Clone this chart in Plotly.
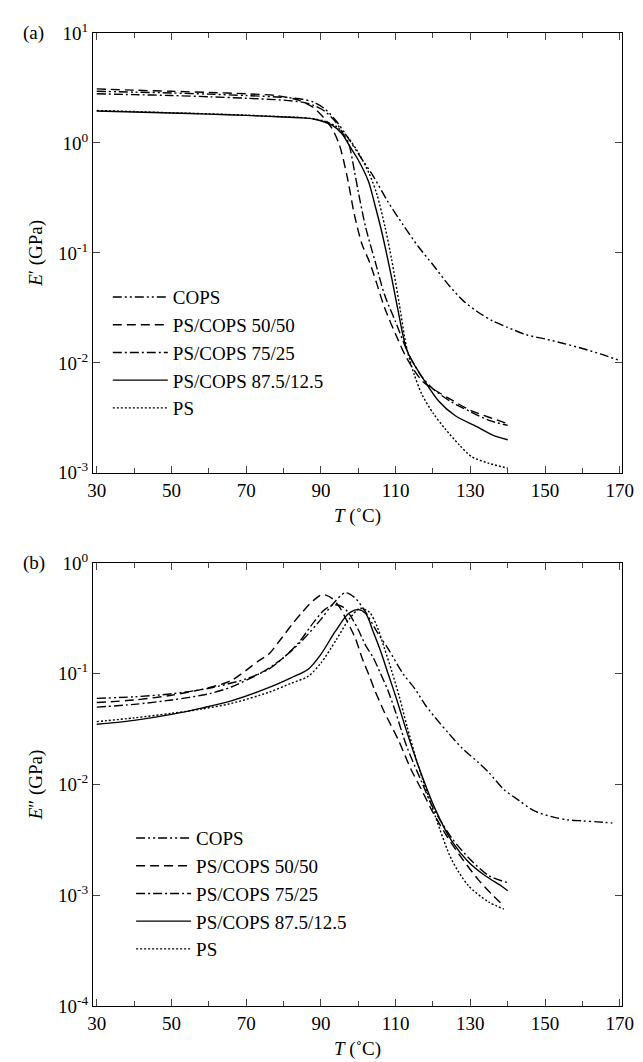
import plotly.graph_objects as go

# 1. DATOS
leyenda = ["COPS", "PS/COPS 50/50", "PS/COPS 75/25", "PS/COPS 87.5/12.5", "PS"]

# (a) E' (GPa) vs T (°C)
t_cops_a = [30, 40, 50, 60, 70, 80, 85, 88, 91, 94, 97, 100, 104, 108, 112, 116, 120, 124, 128,
            132, 136, 140, 145, 150, 155, 160, 165, 170]
e_cops_a = [2.95, 2.9, 2.85, 2.78, 2.7, 2.6, 2.5, 2.35, 2.05, 1.6, 1.15, 0.8, 0.5, 0.29, 0.18, 0.115,
            0.078, 0.052, 0.037, 0.029, 0.024, 0.021, 0.018, 0.0165, 0.015, 0.0135, 0.012, 0.0105]

t_5050_a = [30, 40, 50, 60, 70, 78, 84, 88, 91, 93, 95, 97, 99, 101, 103, 105, 107, 110.8, 113,
            117, 120, 125, 130, 135, 140]
e_5050_a = [3.1, 3.02, 2.95, 2.88, 2.8, 2.7, 2.45, 2.1, 1.66, 1.35, 0.95, 0.5, 0.22, 0.12, 0.083,
            0.052, 0.032, 0.0158, 0.011, 0.0069, 0.0058, 0.0046, 0.0037, 0.0032, 0.0028]

t_7525_a = [30, 40, 50, 60, 70, 80, 85, 88, 91, 94, 96, 97.4, 99, 100, 102, 104.5, 107, 109.9,
            113.5, 117, 120, 125, 130, 135, 140]
e_7525_a = [2.8, 2.75, 2.7, 2.63, 2.55, 2.45, 2.35, 2.2, 1.95, 1.55, 1.2, 1.0, 0.55, 0.36, 0.17,
            0.084, 0.042, 0.024, 0.012, 0.0075, 0.0058, 0.0044, 0.0036, 0.003, 0.0027]

t_875_a = [30, 40, 50, 60, 70, 80, 85, 88, 91, 93, 95.6, 98, 100, 102.7, 104.5, 106.3, 109, 111,
           112.6, 114, 117, 121.5, 126, 132, 136, 140]
e_875_a = [1.95, 1.91, 1.87, 1.83, 1.78, 1.72, 1.69, 1.65, 1.55, 1.45, 1.22, 0.9, 0.7, 0.45, 0.27,
           0.155, 0.058, 0.026, 0.0145, 0.011, 0.0075, 0.0045, 0.0033, 0.0026, 0.0022, 0.002]

t_ps_a = [30, 40, 50, 60, 70, 80, 85, 88, 91, 94, 97, 100, 103, 105, 107.2, 109, 111, 113, 115,
          117, 120, 123.3, 127, 130.4, 135, 140]
e_ps_a = [1.97, 1.93, 1.88, 1.84, 1.79, 1.73, 1.7, 1.66, 1.58, 1.42, 1.15, 0.82, 0.52, 0.34, 0.17,
          0.085, 0.034, 0.0135, 0.0078, 0.0052, 0.0035, 0.0025, 0.0018, 0.0014, 0.00122, 0.0011]

# (b) E'' (GPa) vs T (°C)
t_cops_b = [30, 40, 50, 60, 70, 76, 80, 85, 90, 93, 96.5, 99, 102, 105, 108.1, 112, 115.2, 118,
            121.5, 124.2, 128, 132, 135, 139, 143, 147, 152, 156, 160, 164, 168]
e_cops_b = [0.06, 0.062, 0.066, 0.074, 0.09, 0.11, 0.14, 0.2, 0.31, 0.42, 0.54, 0.49, 0.36, 0.24,
            0.166, 0.1, 0.073, 0.052, 0.037, 0.029, 0.021, 0.016, 0.0128, 0.009, 0.0072, 0.0058,
            0.0051, 0.0048, 0.0047, 0.0046, 0.0045]

t_5050_b = [30, 40, 50, 60, 66, 73.2, 76, 79, 82.2, 85, 88, 90.5, 93, 95, 97, 99.2, 101, 103,
            104.5, 107, 110.8, 114, 117, 120, 124, 128, 132, 136, 139]
e_5050_b = [0.055, 0.058, 0.064, 0.075, 0.087, 0.13, 0.15, 0.2, 0.277, 0.36, 0.46, 0.52, 0.48,
            0.4, 0.3, 0.21, 0.14, 0.095, 0.07, 0.045, 0.025, 0.014, 0.0089, 0.0056, 0.0033,
            0.0021, 0.0014, 0.001, 0.0008]

t_7525_b = [30, 40, 50, 60, 66, 73.2, 76, 80, 84, 88, 91, 93.5, 96, 98, 100, 102, 104, 106, 108,
            110, 113, 117, 120, 125, 130, 135, 140]
e_7525_b = [0.05, 0.053, 0.058, 0.066, 0.076, 0.099, 0.112, 0.14, 0.19, 0.29, 0.38, 0.42, 0.4,
            0.33, 0.25, 0.18, 0.14, 0.1, 0.07, 0.045, 0.022, 0.0105, 0.0062, 0.0033, 0.0021,
            0.0015, 0.0013]

t_875_b = [30, 40, 50, 58, 66, 76, 82, 86.6, 90, 93.8, 97.4, 100, 102, 104, 106, 108, 110, 112.6,
           116, 120.6, 125, 129.5, 134, 138.5, 140]
e_875_b = [0.035, 0.038, 0.043, 0.049, 0.057, 0.075, 0.092, 0.11, 0.15, 0.24, 0.35, 0.38, 0.35,
           0.24, 0.16, 0.1, 0.063, 0.033, 0.015, 0.006, 0.0031, 0.002, 0.0015, 0.0012, 0.0011]

t_ps_b = [30, 40, 50, 58, 66, 76, 82, 86.6, 90, 94, 97.5, 100.5, 103, 105, 107, 109, 111, 113,
          116, 120.6, 125, 129.5, 134.9, 139]
e_ps_b = [0.037, 0.04, 0.044, 0.048, 0.054, 0.068, 0.082, 0.095, 0.125, 0.2, 0.31, 0.39, 0.36,
          0.27, 0.17, 0.105, 0.062, 0.034, 0.015, 0.0052, 0.0021, 0.00122, 0.00087, 0.00075]

x_ticks = [30, 50, 70, 90, 110, 130, 150, 170]

# 2. ESTILOS
estilos = [
    "9px,3px,2px,3px,2px,3px",  # COPS
    "9px,5px",                  # 50/50
    "9px,3px,2px,3px",          # 75/25
    "solid",                    # 87.5/12.5
    "2px,2px",                  # PS
]
fuente = "Liberation Serif, Times New Roman, serif"

datos_a = [(t_cops_a, e_cops_a), (t_5050_a, e_5050_a), (t_7525_a, e_7525_a),
           (t_875_a, e_875_a), (t_ps_a, e_ps_a)]
datos_b = [(t_cops_b, e_cops_b), (t_5050_b, e_5050_b), (t_7525_b, e_7525_b),
           (t_875_b, e_875_b), (t_ps_b, e_ps_b)]

fig = go.Figure()

for i, (t, e) in enumerate(datos_a):
    fig.add_trace(go.Scatter(
        x=t, y=e, mode="lines", name=leyenda[i], xaxis="x", yaxis="y", legend="legend",
        line=dict(color="black", width=1.4, dash=estilos[i], shape="spline", smoothing=0.8),
    ))

for i, (t, e) in enumerate(datos_b):
    fig.add_trace(go.Scatter(
        x=t, y=e, mode="lines", name=leyenda[i], xaxis="x2", yaxis="y2", legend="legend2",
        line=dict(color="black", width=1.4, dash=estilos[i], shape="spline", smoothing=0.8),
    ))

# 3. EJES
eje_x = dict(
    range=[29, 170.6], tickvals=x_ticks, ticks="inside", ticklen=7, tickwidth=1.2,
    minor=dict(dtick=10, tick0=30, ticks="inside", ticklen=5, tickwidth=1.2),
    showline=True, linecolor="black", linewidth=1.3, mirror="ticks", showgrid=False,
    zeroline=False, tickfont=dict(size=19),
    title=dict(text="<i>T</i> (˚C)", font=dict(size=19), standoff=8),
)


def eje_y(dec_min, dec_max, titulo, dominio):
    vals = [10 ** d for d in range(dec_min, dec_max + 1)]
    textos = ["10<sup>%d</sup>" % d for d in range(dec_min, dec_max + 1)]
    return dict(
        type="log", range=[dec_min, dec_max], tickvals=vals, ticktext=textos, domain=dominio,
        ticks="inside", ticklen=7, tickwidth=1.2, showline=True, linecolor="black", linewidth=1.3,
        mirror="ticks", showgrid=False, zeroline=False, tickfont=dict(size=19),
        title=dict(text=titulo, font=dict(size=19), standoff=10),
    )


fig.update_layout(
    width=643, height=1062,
    margin=dict(l=85, r=29, t=16, b=64),
    plot_bgcolor="white", paper_bgcolor="white",
    font=dict(family=fuente, color="black", size=19),
    xaxis=dict(eje_x, anchor="y"),
    yaxis=eje_y(-3, 1, "<i>E</i>′ (GPa)", [0.548, 1.0]),
    xaxis2=dict(eje_x, anchor="y2"),
    yaxis2=eje_y(-4, 0, "<i>E</i>″ (GPa)", [0.0, 0.4552]),
    legend=dict(x=0.028, y=0.748, xanchor="left", yanchor="top", bgcolor="rgba(0,0,0,0)",
                font=dict(size=19), itemwidth=55, tracegroupgap=0),
    legend2=dict(x=0.072, y=0.192, xanchor="left", yanchor="top", bgcolor="rgba(0,0,0,0)",
                 font=dict(size=19), itemwidth=55, tracegroupgap=0),
    annotations=[
        dict(text="(a)", x=-0.136, y=1.0, xref="paper", yref="paper", xanchor="left",
             yanchor="middle", showarrow=False, font=dict(size=19)),
        dict(text="(b)", x=-0.136, y=0.4552, xref="paper", yref="paper", xanchor="left",
             yanchor="middle", showarrow=False, font=dict(size=19)),
    ],
)

fig.write_html("out.html")
